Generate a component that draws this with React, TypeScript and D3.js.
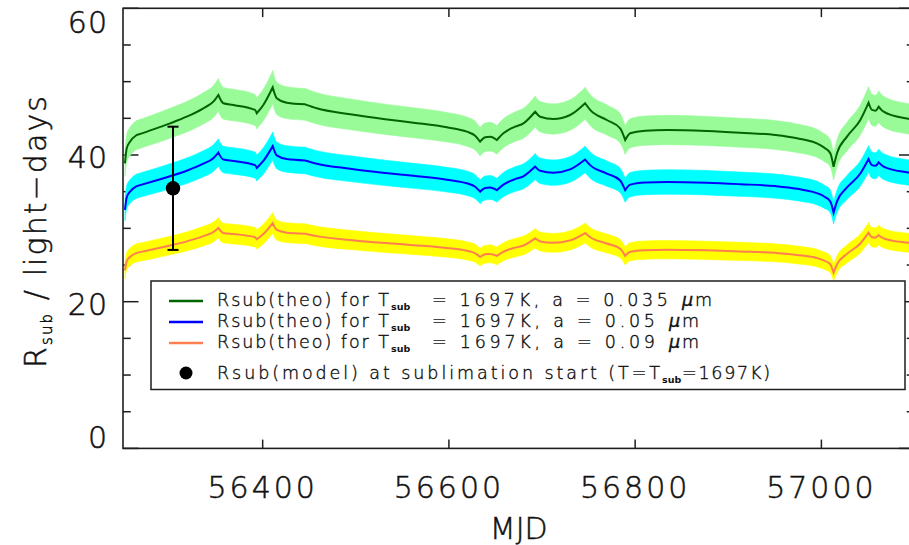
import React from "react";
import * as d3 from "d3";

// MJD sampling of the theoretical sublimation radius curves
const mjd = [
  56252.1, 56254.0, 56257.5, 56264.7, 56282.6, 56300.5, 56318.4, 56336.3, 56347.0, 56352.4,
  56357.8, 56368.5, 56391.8, 56393.6, 56400.7, 56410.8, 56415.1, 56425.9, 56445.5, 56458.1,
  56493.9, 56531.5, 56561.9, 56597.8, 56619.2, 56628.2, 56633.5, 56638.9, 56644.3, 56651.5,
  56658.5, 56671.1, 56680.0, 56692.6, 56698.0, 56712.3, 56730.2, 56746.3, 56751.7, 56769.6,
  56783.9, 56789.3, 56794.7, 56810.8, 56834.1, 56877.1, 56912.8, 56950.4, 56973.8, 56998.8,
  57004.2, 57009.6, 57013.1, 57016.8, 57027.5, 57041.8, 57050.7, 57054.4, 57057.9, 57061.5,
  57066.8, 57090.1, 57094.4, 57100.0,
];

// Rsub (light-days), grain size a = 0.035 um
const rsubA035 = [
  38.87, 40.91, 41.81, 42.73, 43.50, 44.32, 45.22, 46.37, 47.27, 48.18,
  47.05, 46.82, 46.14, 45.69, 46.82, 49.23, 47.73, 47.13, 46.91, 46.37,
  45.55, 44.87, 44.40, 43.78, 43.18, 42.63, 41.81, 42.41, 42.50, 42.05,
  42.96, 43.86, 44.32, 45.90, 45.22, 44.91, 45.45, 47.05, 46.14, 44.77,
  43.64, 42.05, 42.96, 43.31, 43.41, 43.27, 43.04, 42.73, 42.28, 41.36,
  40.91, 40.23, 38.40, 40.23, 42.50, 44.77, 47.13, 46.14, 46.04, 46.59,
  45.90, 45.00, 44.91, 44.70,
];

// Rsub (light-days), grain size a = 0.05 um
const rsubA05 = [
  32.53, 34.24, 35.00, 35.76, 36.41, 37.10, 37.85, 38.81, 39.57, 40.33,
  39.38, 39.19, 38.62, 38.24, 39.19, 41.21, 39.95, 39.45, 39.26, 38.81,
  38.13, 37.56, 37.16, 36.64, 36.14, 35.68, 35.00, 35.50, 35.57, 35.20,
  35.96, 36.71, 37.10, 38.42, 37.85, 37.59, 38.04, 39.38, 38.62, 37.47,
  36.53, 35.20, 35.96, 36.25, 36.33, 36.22, 36.02, 35.76, 35.39, 34.62,
  34.24, 33.67, 32.14, 33.67, 35.57, 37.47, 39.45, 38.62, 38.53, 39.00,
  38.42, 37.67, 37.59, 37.41,
];

// Rsub (light-days), grain size a = 0.09 um
const rsubA09 = [
  24.26, 25.53, 26.09, 26.66, 27.14, 27.66, 28.22, 28.94, 29.50, 30.06,
  29.36, 29.22, 28.79, 28.51, 29.22, 30.72, 29.78, 29.41, 29.27, 28.94,
  28.42, 28.00, 27.71, 27.32, 26.94, 26.60, 26.09, 26.46, 26.52, 26.24,
  26.81, 27.37, 27.66, 28.64, 28.22, 28.02, 28.36, 29.36, 28.79, 27.94,
  27.23, 26.24, 26.81, 27.03, 27.09, 27.00, 26.86, 26.66, 26.38, 25.81,
  25.53, 25.10, 23.96, 25.10, 26.52, 27.94, 29.41, 28.79, 28.73, 29.07,
  28.64, 28.08, 28.02, 27.89,
];

// indices of the sampled points where the curves have a cusp (light-curve epochs)
const cuspIndex = [0, 3, 9, 13, 15, 18, 26, 29, 33, 37, 41, 50, 52, 56, 59, 63];

// relative half-width of the uncertainty band
const bandFrac = [0.046, 0.046, 0.046];

const grainSizes = ["0.035", "0.05", "0.09"];
const tSub = 1697;

// model point with error bar
const modelMjd = [56303.7];
const modelR = [35.46];
const modelErr = [8.4];

const xTicks = [56400, 56600, 56800, 57000];
const yTicks = [0, 20, 40, 60];
const yMinorTicks = [5, 10, 15, 25, 30, 35, 45, 50, 55];

const bandColors = ["#98fb98", "#00ffff", "#ffff00"];
const lineColors = ["#006400", "#0000ff", "#ff7f50"];

const FONT = "'DejaVu Sans', 'Liberation Sans', sans-serif";

export default function App() {
  const W = 909;
  const H = 545;
  const L = 123;
  const R = 914.5;
  const T = 8.3;
  const B = 448.4;

  const x = d3.scaleLinear().domain([56250, 57100]).range([L, R]);
  const y = d3.scaleLinear().domain([0, 60]).range([B, T]);

  const series = [rsubA035, rsubA05, rsubA09];

  const segments: number[][] = [];
  for (let j = 0; j < cuspIndex.length - 1; j++) {
    segments.push(d3.range(cuspIndex[j], cuspIndex[j + 1] + 1));
  }

  const linePath = (s: number[]) => {
    const gen = d3
      .line<number>()
      .x((i) => x(mjd[i]))
      .y((i) => y(s[i]))
      .curve(d3.curveMonotoneX);
    return segments
      .map((seg, j) => {
        const d = gen(seg) || "";
        return j === 0 ? d : d.replace(/^M[^A-Za-z]*/, "");
      })
      .join("");
  };

  const areaPaths = (s: number[], f: number) => {
    const gen = d3
      .area<number>()
      .x((i) => x(mjd[i]))
      .y0((i) => y(s[i] * (1 - f)))
      .y1((i) => y(s[i] * (1 + f)))
      .curve(d3.curveMonotoneX);
    return segments.map((seg) => gen(seg) || "");
  };

  const axisColor = "#1e1e1e";
  const xTickLen = 8.8;
  const yTickLen = 15.5;

  const legendRows = [0, 1, 2];
  const legendBaselines = [306, 327, 348];
  const legendMuX = [682, 669, 669];

  const yLabelCenter = (t: number) => Math.min(Math.max(y(t) + 2, T + 14), B - 11);

  const textStroke = { stroke: "#111", strokeWidth: 0.5 };

  return (
    <svg
      width={W}
      height={H}
      style={{ position: "absolute", left: 0, top: 0, background: "#fff" }}
      fontFamily={FONT}
    >
      <defs>
        <clipPath id="plotClip">
          <rect x={L} y={T} width={R - L} height={B - T} />
        </clipPath>
      </defs>
      <rect x={0} y={0} width={W} height={H} fill="#fff" />

      {/* ticks */}
      <g stroke={axisColor} strokeWidth={1.5}>
        {xTicks.map((t) => (
          <g key={"xt" + t}>
            <line x1={x(t)} x2={x(t)} y1={B} y2={B - xTickLen} />
            <line x1={x(t)} x2={x(t)} y1={T} y2={T + xTickLen} />
          </g>
        ))}
        {yTicks.map((t) => (
          <g key={"yt" + t}>
            <line x1={L} x2={L + yTickLen} y1={y(t)} y2={y(t)} />
            <line x1={R} x2={R - yTickLen} y1={y(t)} y2={y(t)} />
          </g>
        ))}
        {yMinorTicks.map((t) => (
          <g key={"ym" + t}>
            <line x1={L} x2={L + yTickLen / 2} y1={y(t)} y2={y(t)} />
            <line x1={R} x2={R - yTickLen / 2} y1={y(t)} y2={y(t)} />
          </g>
        ))}
      </g>

      {/* bands and lines */}
      <g clipPath="url(#plotClip)">
        {series.map((s, k) =>
          areaPaths(s, bandFrac[k]).map((d, j) => (
            <path key={"band" + k + "_" + j} d={d} fill={bandColors[k]} stroke={bandColors[k]} strokeWidth={0.6} />
          ))
        )}
        {series.map((s, k) => (
          <path
            key={"line" + k}
            d={linePath(s)}
            fill="none"
            stroke={lineColors[k]}
            strokeWidth={2}
            strokeLinejoin="miter"
          />
        ))}
      </g>

      {/* model point */}
      {modelMjd.map((m, i) => (
        <g key={"mp" + i} stroke="#000" strokeWidth={2}>
          <line x1={x(m)} x2={x(m)} y1={y(modelR[i] - modelErr[i])} y2={y(modelR[i] + modelErr[i])} />
          <line x1={x(m) - 5.5} x2={x(m) + 5.5} y1={y(modelR[i] + modelErr[i])} y2={y(modelR[i] + modelErr[i])} />
          <line x1={x(m) - 5.5} x2={x(m) + 5.5} y1={y(modelR[i] - modelErr[i])} y2={y(modelR[i] - modelErr[i])} />
          <circle cx={x(m)} cy={y(modelR[i])} r={7.2} fill="#000" stroke="none" />
        </g>
      ))}

      {/* frame */}
      <rect x={L} y={T} width={R - L} height={B - T} fill="none" stroke={axisColor} strokeWidth={1.6} />

      {/* tick labels */}
      <g fill="#111" fontSize={30} fontWeight={300} {...textStroke}>
        {xTicks.map((t) => (
          <text key={"xl" + t} x={x(t)} y={498} textAnchor="middle" letterSpacing={3}>
            {t}
          </text>
        ))}
        {yTicks.map((t) => (
          <text key={"yl" + t} x={108} y={yLabelCenter(t) + 11} textAnchor="end" letterSpacing={1}>
            {t}
          </text>
        ))}
      </g>

      {/* axis titles */}
      <text x={(L + R) / 2} y={539} textAnchor="middle" fontSize={30} fontWeight={300} fill="#111" {...textStroke}>
        MJD
      </text>
      <text
        transform={`translate(46,${232}) rotate(-90)`}
        textAnchor="middle"
        fontSize={30}
        fontWeight={300}
        fill="#111"
        textLength={272}
        lengthAdjust="spacing"
        {...textStroke}
      >
        R<tspan fontSize={15} dy={6}>sub</tspan>
        <tspan dy={-6}> / light−days</tspan>
      </text>

      {/* legend */}
      <rect x={151} y={281} width={754} height={108.5} fill="#fff" stroke={axisColor} strokeWidth={1.5} />
      <g fontSize={17.5} fontWeight={300} fill="#111" stroke="#111" strokeWidth={0.4}>
        {legendRows.map((k) => (
          <g key={"lg" + k}>
            <line
              x1={169}
              x2={203}
              y1={legendBaselines[k] - 5}
              y2={legendBaselines[k] - 5}
              stroke={lineColors[k]}
              strokeWidth={2.5}
            />
            <text x={217} y={legendBaselines[k]} textLength={172} lengthAdjust="spacing">
              Rsub(theo) for T
            </text>
            <text x={391} y={legendBaselines[k] + 4} fontSize={9.5} fontWeight={700} strokeWidth={0}>
              sub
            </text>
            <text
              x={432}
              y={legendBaselines[k]}
              textLength={legendMuX[k] - 14 - 432}
              lengthAdjust="spacing"
            >
              {`= ${tSub}K, a = ${grainSizes[k]}`}
            </text>
            <text x={legendMuX[k]} y={legendBaselines[k]} fontStyle="italic">
              μ
            </text>
            <text x={legendMuX[k] + 13} y={legendBaselines[k]}>
              m
            </text>
          </g>
        ))}
        <circle cx={186} cy={373} r={6.5} fill="#000" stroke="none" />
        <text x={217} y={379} textLength={443} lengthAdjust="spacing">
          Rsub(model) at sublimation start (T=T
        </text>
        <text x={662} y={383} fontSize={9.5} fontWeight={700} strokeWidth={0}>
          sub
        </text>
        <text x={682} y={379} textLength={88} lengthAdjust="spacing">
          {`=${tSub}K)`}
        </text>
      </g>
    </svg>
  );
}
